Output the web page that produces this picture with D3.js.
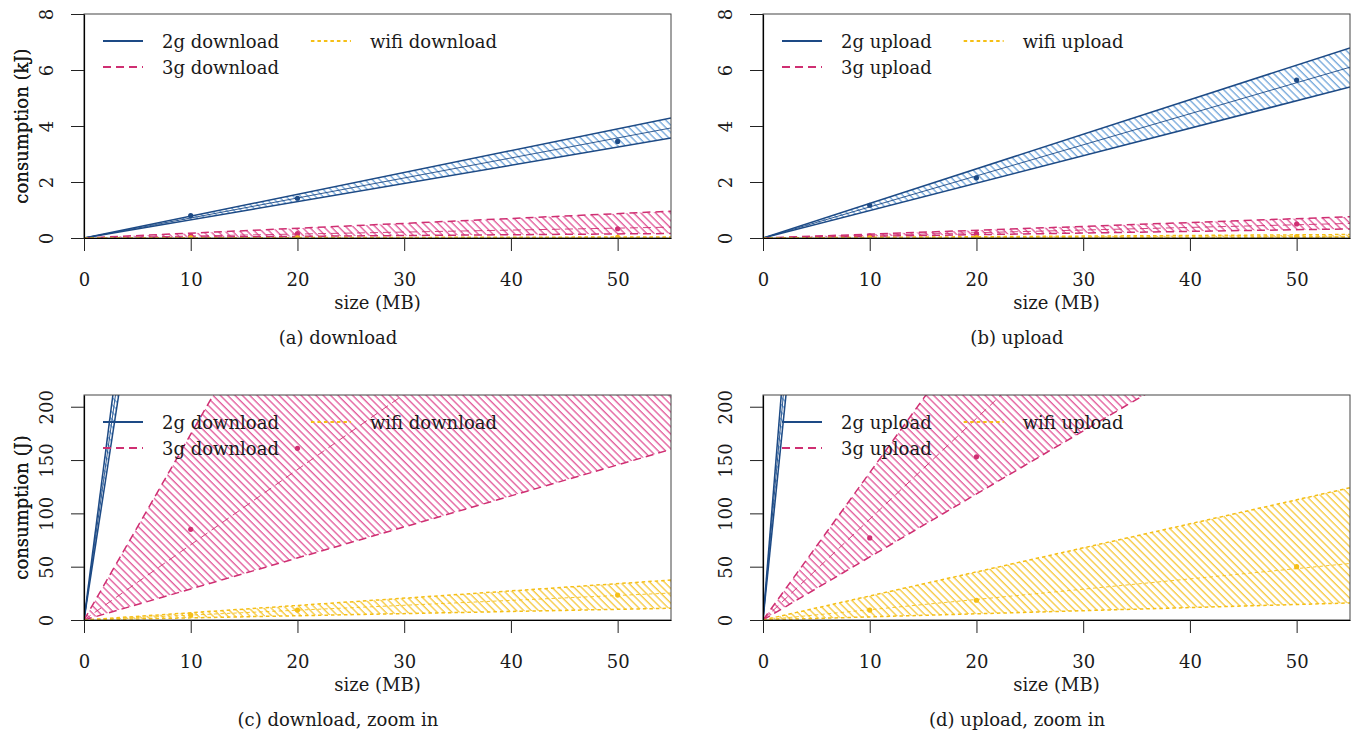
<!DOCTYPE html>
<html>
<head>
<meta charset="utf-8">
<script src="https://cdn.jsdelivr.net/npm/d3@7"></script>
<style>
  body { margin: 0; background: #fff; }
  svg { display: block; font-family: "DejaVu Serif", serif; }
  .tick text, .lbl { font-size: 18px; fill: #1a1a1a; font-family: "DejaVu Serif", serif; }
</style>
</head>
<body>
<svg id="chart" width="1351" height="732"></svg>
<script>
const svg = d3.select("#chart");

const networks = ["2g", "3g", "wifi"];
const lineSizes = [0, 55];          // MB, ends of the fitted lines
const pointSizes = [10, 20, 50];    // MB, measured transfers
const xTicks = [0, 10, 20, 30, 40, 50];

// consumption in J at 55 MB (lines start at the origin), order = networks
const downFit = [3930, 388, 25.3];
const downLow = [3570, 160, 11];
const downHigh = [4290, 958, 37.5];
const downPoints = [
  [800, 1420, 3450],
  [85, 161, 330],
  [4.6, 9.3, 23.4],
];

const upFit = [6100, 520, 53];
const upLow = [5390, 325, 16];
const upHigh = [6790, 760, 124];
const upPoints = [
  [1170, 2150, 5640],
  [77, 153, 500],
  [9.3, 18.5, 50],
];

const styles = {
  "2g": { line: "#1d4a85", hatch: "#5594d3", dash: null },
  "3g": { line: "#cf2f72", hatch: "#dc3584", dash: "8,5" },
  wifi: { line: "#f5bf16", hatch: "#f4bd14", dash: "3.5,3" },
};

const panels = [
  { dir: "download", unit: "kJ", div: 1000, yMax: 8, yTicks: [0, 2, 4, 6, 8],
    left: 84, right: 671, top: 14, bottom: 238, capX: 338, caption: "(a) download",
    fit: downFit, low: downLow, high: downHigh, points: downPoints },
  { dir: "upload", unit: "kJ", div: 1000, yMax: 8, yTicks: [0, 2, 4, 6, 8],
    left: 763, right: 1350, top: 14, bottom: 238, capX: 1017, caption: "(b) upload",
    fit: upFit, low: upLow, high: upHigh, points: upPoints },
  { dir: "download", unit: "J", div: 1, yMax: 211, yTicks: [0, 50, 100, 150, 200],
    left: 84, right: 671, top: 395, bottom: 620, capX: 338, caption: "(c) download, zoom in",
    fit: downFit, low: downLow, high: downHigh, points: downPoints },
  { dir: "upload", unit: "J", div: 1, yMax: 211, yTicks: [0, 50, 100, 150, 200],
    left: 763, right: 1350, top: 395, bottom: 620, capX: 1017, caption: "(d) upload, zoom in",
    fit: upFit, low: upLow, high: upHigh, points: upPoints },
];

// hatch patterns "\\\\"
const defs = svg.append("defs");
networks.forEach((net) => {
  const p = defs.append("pattern")
    .attr("id", `hatch-${net}`)
    .attr("patternUnits", "userSpaceOnUse")
    .attr("width", 5.2)
    .attr("height", 10)
    .attr("patternTransform", "rotate(-45)");
  p.append("line")
    .attr("x1", 1).attr("x2", 1)
    .attr("y1", 0).attr("y2", 10)
    .attr("stroke", styles[net].hatch)
    .attr("stroke-width", 1.1);
});

function drawPanel(cfg, idx) {
  const x = d3.scaleLinear().domain([0, 55]).range([cfg.left, cfg.right]);
  const y = d3.scaleLinear().domain([0, cfg.yMax]).range([cfg.bottom, cfg.top]);

  defs.append("clipPath").attr("id", `clip-${idx}`)
    .append("rect")
    .attr("x", cfg.left).attr("y", cfg.top)
    .attr("width", cfg.right - cfg.left).attr("height", cfg.bottom - cfg.top);

  const g = svg.append("g").attr("clip-path", `url(#clip-${idx})`);
  const line = d3.line().x((d) => x(d[0])).y((d) => y(d[1]));

  networks.forEach((net, i) => {
    const st = styles[net];
    const lo = lineSizes.map((s, k) => [s, k === 0 ? 0 : cfg.low[i] / cfg.div]);
    const hi = lineSizes.map((s, k) => [s, k === 0 ? 0 : cfg.high[i] / cfg.div]);
    const fit = lineSizes.map((s, k) => [s, k === 0 ? 0 : cfg.fit[i] / cfg.div]);

    g.append("path")
      .attr("d", line(lo.concat(hi.slice().reverse())) + "Z")
      .attr("fill", `url(#hatch-${net})`)
      .attr("stroke", "none");

    [lo, hi].forEach((b) => {
      g.append("path")
        .attr("d", line(b))
        .attr("fill", "none")
        .attr("stroke", st.line)
        .attr("stroke-width", 1.5)
        .attr("stroke-dasharray", st.dash);
    });

    g.append("path")
      .attr("d", line(fit))
      .attr("fill", "none")
      .attr("stroke", st.line)
      .attr("stroke-width", 0.9)
      .attr("stroke-dasharray", st.dash);

    g.selectAll(null)
      .data(pointSizes.map((s, k) => [s, cfg.points[i][k] / cfg.div]))
      .join("circle")
      .attr("cx", (d) => x(d[0]))
      .attr("cy", (d) => y(d[1]))
      .attr("r", 2.6)
      .attr("fill", st.line);
  });

  // frame
  svg.append("rect")
    .attr("x", cfg.left).attr("y", cfg.top)
    .attr("width", cfg.right - cfg.left).attr("height", cfg.bottom - cfg.top)
    .attr("fill", "none")
    .attr("stroke", "#444")
    .attr("stroke-width", 1);

  // x axis
  const xa = svg.append("g")
    .attr("transform", `translate(0,${cfg.bottom})`)
    .call(d3.axisBottom(x).tickValues(xTicks).tickSize(13).tickSizeOuter(0))
    .attr("font-family", null).attr("font-size", null);
  xa.select(".domain").attr("stroke", "#000").attr("stroke-width", 1.2);
  xa.selectAll(".tick line").attr("stroke", "#222");
  xa.selectAll(".tick text").attr("y", 48).attr("dy", 0);

  // y axis
  const ya = svg.append("g")
    .attr("transform", `translate(${cfg.left},0)`)
    .call(d3.axisLeft(y).tickValues(cfg.yTicks).tickSize(13).tickSizeOuter(0))
    .attr("font-family", null).attr("font-size", null);
  ya.select(".domain").attr("stroke", "#000").attr("stroke-width", 1.2);
  ya.selectAll(".tick line").attr("stroke", "#222");
  ya.selectAll(".tick text")
    .attr("x", 0).attr("dy", 0)
    .attr("text-anchor", "middle")
    .attr("transform", "translate(-31,0) rotate(-90)");
  svg.selectAll(".tick text").attr("fill", "#1a1a1a");

  // titles
  svg.append("text")
    .attr("class", "lbl")
    .attr("transform", `translate(28,${(cfg.top + cfg.bottom) / 2}) rotate(-90)`)
    .attr("text-anchor", "middle")
    .text(`consumption (${cfg.unit})`);

  svg.append("text")
    .attr("class", "lbl")
    .attr("x", (cfg.left + cfg.right) / 2)
    .attr("y", cfg.bottom + 71)
    .attr("text-anchor", "middle")
    .text("size (MB)");

  svg.append("text")
    .attr("class", "lbl")
    .attr("x", cfg.capX)
    .attr("y", cfg.bottom + 106)
    .attr("text-anchor", "middle")
    .text(cfg.caption);

  // legend: 2g, 3g in first column, wifi in second
  const leg = svg.append("g").attr("transform", `translate(${cfg.left},${cfg.top})`);
  const rowY = [27, 53];
  let colX = 19;
  const firstTexts = [];
  networks.slice(0, 2).forEach((net, r) => {
    leg.append("line")
      .attr("x1", colX).attr("x2", colX + 40)
      .attr("y1", rowY[r]).attr("y2", rowY[r])
      .attr("stroke", styles[net].line)
      .attr("stroke-width", 2)
      .attr("stroke-dasharray", styles[net].dash);
    firstTexts.push(leg.append("text")
      .attr("class", "lbl")
      .attr("x", colX + 59)
      .attr("y", rowY[r] + 6.5)
      .text(`${net} ${cfg.dir}`));
  });
  const w = d3.max(firstTexts, (t) => t.node().getComputedTextLength());
  colX = colX + 59 + w + 32;
  leg.append("line")
    .attr("x1", colX).attr("x2", colX + 40)
    .attr("y1", rowY[0]).attr("y2", rowY[0])
    .attr("stroke", styles.wifi.line)
    .attr("stroke-width", 2)
    .attr("stroke-dasharray", styles.wifi.dash);
  leg.append("text")
    .attr("class", "lbl")
    .attr("x", colX + 59)
    .attr("y", rowY[0] + 6.5)
    .text(`wifi ${cfg.dir}`);
}

panels.forEach(drawPanel);
</script>
</body>
</html>
